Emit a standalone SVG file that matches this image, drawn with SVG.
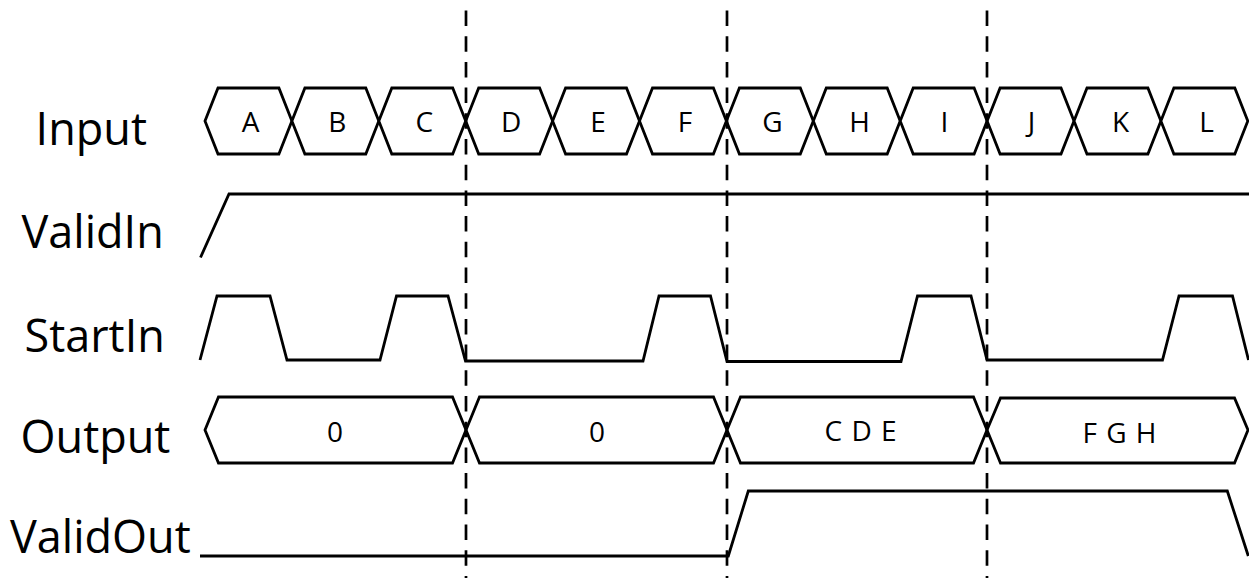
<svg xmlns="http://www.w3.org/2000/svg" width="1249" height="578" viewBox="0 0 1249 578">
  <style>
    .bg { fill: #ffffff; }
    .wave { fill: none; stroke: #000000; stroke-width: 2.8; stroke-linejoin: miter; }
    .hex { fill: #ffffff; stroke: #000000; stroke-width: 2.8; stroke-linejoin: miter; }
    .guide { fill: none; stroke: #000000; stroke-width: 2.7; stroke-dasharray: 15.5 10.2; }
    .label { font-family: "Open Sans", "Liberation Sans", sans-serif; font-size: 45px; fill: #000000; }
    .val { font-family: "Open Sans", "Liberation Sans", sans-serif; font-size: 28px; fill: #000000; text-anchor: middle; }
    .spaced { letter-spacing: 1px; }
  </style>
  <rect class="bg" x="0" y="0" width="1249" height="578"/>

  <g id="labels">
    <text class="label" x="35.6" y="145">Input</text>
    <text class="label" x="21.5" y="248.3">ValidIn</text>
    <text class="label" x="24.5" y="352.3">StartIn</text>
    <text class="label" x="20.6" y="453.3">Output</text>
    <text class="label" x="10" y="553.3">ValidOut</text>
  </g>

  <g id="input">
    <polygon class="hex" points="205,121 218,88 278.9,88 291.9,121 278.9,154 218,154"/>
    <polygon class="hex" points="291.9,121 304.9,88 365.8,88 378.8,121 365.8,154 304.9,154"/>
    <polygon class="hex" points="378.8,121 391.8,88 452.7,88 465.7,121 452.7,154 391.8,154"/>
    <polygon class="hex" points="465.7,121 478.7,88 539.6,88 552.6,121 539.6,154 478.7,154"/>
    <polygon class="hex" points="552.6,121 565.6,88 626.5,88 639.5,121 626.5,154 565.6,154"/>
    <polygon class="hex" points="639.5,121 652.5,88 713.4,88 726.4,121 713.4,154 652.5,154"/>
    <polygon class="hex" points="726.4,121 739.4,88 800.3,88 813.3,121 800.3,154 739.4,154"/>
    <polygon class="hex" points="813.3,121 826.3,88 887.2,88 900.2,121 887.2,154 826.3,154"/>
    <polygon class="hex" points="900.2,121 913.2,88 974.1,88 987.1,121 974.1,154 913.2,154"/>
    <polygon class="hex" points="987.1,121 1000.1,88 1061,88 1074,121 1061,154 1000.1,154"/>
    <polygon class="hex" points="1074,121 1087,88 1147.9,88 1160.9,121 1147.9,154 1087,154"/>
    <polygon class="hex" points="1160.9,121 1173.9,88 1234.8,88 1247.8,121 1234.8,154 1173.9,154"/>
    <text class="val" x="250.5" y="131.5">A</text>
    <text class="val" x="337.4" y="131.5">B</text>
    <text class="val" x="424.3" y="131.5">C</text>
    <text class="val" x="511.2" y="131.5">D</text>
    <text class="val" x="598.1" y="131.5">E</text>
    <text class="val" x="685" y="131.5">F</text>
    <text class="val" x="772.5" y="131.5">G</text>
    <text class="val" x="859.5" y="131.5">H</text>
    <text class="val" x="944.5" y="131.5">I</text>
    <text class="val" x="1031.5" y="131.5">J</text>
    <text class="val" x="1120.5" y="131.5">K</text>
    <text class="val" x="1206.5" y="131.5">L</text>
  </g>

  <g id="validin">
    <polyline class="wave" points="200.5,257.5 229,194 1249,194"/>
  </g>

  <g id="startin">
    <polyline class="wave" points="200,360 217,296 270,296 287,360 380,360 396.5,296 448,296 465.5,361 643,361 659,296 710.5,296 727,361.5 901,361.5 917.5,296 971,296 987,360 1162.5,360 1179,296 1232.5,296 1248.5,360"/>
  </g>

  <g id="output">
    <polygon class="hex" points="205,430 218.5,397 452.5,397 466,430 452.5,463 218.5,463"/>
    <polygon class="hex" points="466,430 479.5,397 713.5,397 727,430 713.5,463 479.5,463"/>
    <polygon class="hex" points="727,430 740.5,397 973.5,397 987,430 973.5,463 740.5,463"/>
    <polygon class="hex" points="987,430 1000.5,398 1234.5,398 1248,430 1234.5,463 1000.5,463"/>
    <text class="val" x="335" y="441.5">0</text>
    <text class="val" x="597" y="441.5">0</text>
    <text class="val spaced" x="861" y="441">C D E</text>
    <text class="val spaced" x="1120" y="443">F G H</text>
  </g>

  <g id="validout">
    <polyline class="wave" points="200,556 728.3,556 748.3,491 1227.3,491 1248.3,556"/>
  </g>

  <g id="connectors">
    <line class="guide" x1="466" y1="10.5" x2="466" y2="578"/>
    <line class="guide" x1="727" y1="10.5" x2="727" y2="578"/>
    <line class="guide" x1="987" y1="10.5" x2="987" y2="578"/>
  </g>
</svg>
